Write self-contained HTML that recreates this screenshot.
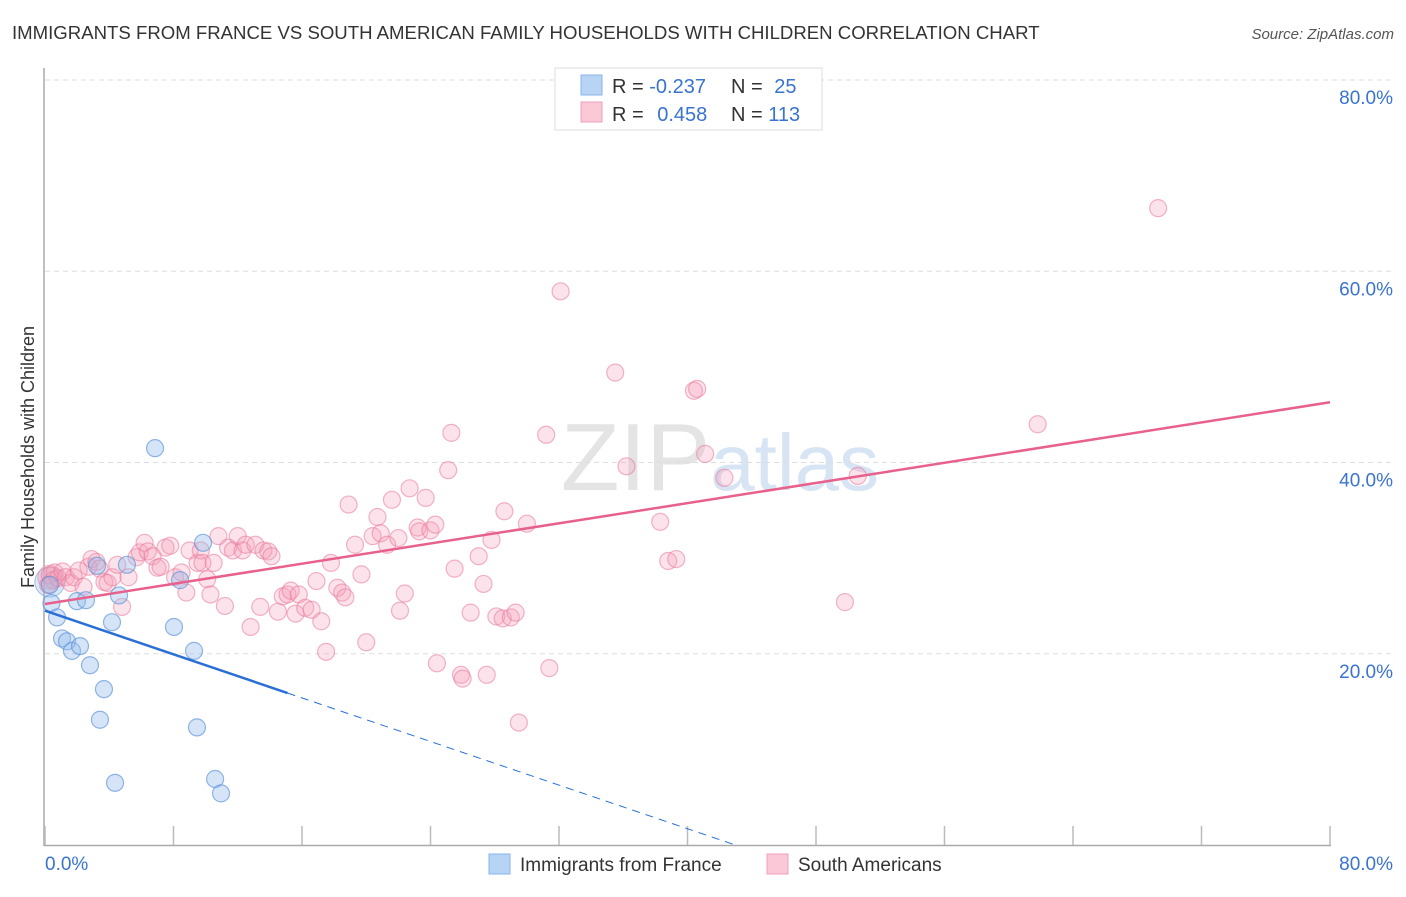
<!DOCTYPE html>
<html><head><meta charset="utf-8"><style>
body{margin:0;background:#fff;font-family:"Liberation Sans",sans-serif;}
svg text{font-family:"Liberation Sans",sans-serif;}
</style></head><body>
<svg id="chart" width="1406" height="892" xmlns="http://www.w3.org/2000/svg">
<text x="12" y="39" font-size="18.6" fill="#333">IMMIGRANTS FROM FRANCE VS SOUTH AMERICAN FAMILY HOUSEHOLDS WITH CHILDREN CORRELATION CHART</text>
<text x="1394" y="39" font-size="15" fill="#555" font-style="italic" text-anchor="end">Source: ZipAtlas.com</text>
<text x="720" y="490" font-size="96" fill="#e4e4e4" text-anchor="middle" font-family="Liberation Serif"><tspan>ZIP</tspan><tspan fill="#d7e4f3" font-family="Liberation Sans" font-size="80">atlas</tspan></text>
<text transform="translate(34,457) rotate(-90)" font-size="18" fill="#333" text-anchor="middle">Family Households with Children</text>
<g id="grid"></g>
<g id="axes"></g>
<g id="marks"></g>
<g>
<rect x="555" y="68" width="267" height="62" fill="#fff" stroke="#ddd"/>
<rect x="581" y="75" width="21" height="20" fill="#b8d4f5" stroke="#8ab4e8"/>
<rect x="581" y="102" width="21" height="20" fill="#fbc8d7" stroke="#f0a0b8"/>
<text x="612" y="93" font-size="20" fill="#333">R = <tspan fill="#3a73d0">-0.237</tspan></text>
<text x="731" y="93" font-size="20" fill="#333">N = <tspan fill="#3a73d0" dx="6">25</tspan></text>
<text x="612" y="121" font-size="20" fill="#333">R = <tspan fill="#3a73d0" dx="8">0.458</tspan></text>
<text x="731" y="121" font-size="20" fill="#333">N = <tspan fill="#3a73d0">113</tspan></text>
</g>
<g>
<rect x="489" y="854" width="21" height="20" fill="#b8d4f5" stroke="#8ab4e8"/>
<text x="520" y="871" font-size="19" fill="#333">Immigrants from France</text>
<rect x="767" y="854" width="21" height="20" fill="#fbc8d7" stroke="#f0a0b8"/>
<text x="798" y="871" font-size="19" fill="#333">South Americans</text>
</g>
</svg>
<script>
const xTicks=[0,8,16,24,32,40,48,56,64,72,80];
const yTicks=[20,40,60,80];
const yTickLabels=["20.0%","40.0%","60.0%","80.0%"];
const franceX=[0.3,0.4,0.75,1.06,1.37,1.68,2.18,1.99,2.55,2.8,3.67,3.42,4.17,4.36,4.61,5.1,3.24,6.85,8.03,8.41,9.28,9.46,9.84,10.59,10.96];
const franceY=[27.2,25.3,23.8,21.6,21.3,20.3,20.8,25.5,25.6,18.8,16.3,13.1,23.3,6.5,26.1,29.3,29.2,41.5,22.8,27.7,20.3,12.3,31.6,6.9,5.4];
const saX=[0.3,0.5,0.6,0.2,0.8,1.1,1.3,1.6,1.8,2.1,2.4,2.7,2.9,3.2,3.4,3.7,3.9,4.2,4.5,4.8,5.2,5.7,5.9,6.2,6.4,6.7,7.0,7.2,7.5,7.8,8.1,8.5,8.8,9.0,9.5,9.7,9.8,10.1,10.3,10.5,10.8,11.2,11.4,11.7,12.0,12.3,12.5,12.8,13.1,13.4,13.6,13.9,14.1,14.5,14.8,15.1,15.3,15.6,15.8,16.2,16.6,16.9,17.2,17.5,17.8,18.2,18.5,18.7,18.9,19.3,19.7,20.0,20.4,20.7,20.9,21.3,21.6,22.0,22.1,22.4,22.7,23.2,23.3,23.7,24.0,24.3,24.4,25.3,25.1,25.5,25.9,26.0,26.5,27.0,27.3,27.5,27.8,28.1,28.5,28.6,29.0,29.3,29.5,30.0,31.2,31.4,32.1,35.5,36.2,38.3,38.8,39.3,40.4,40.6,41.1,42.3,49.8,50.6,61.8,69.3];
const saY=[28.2,27.7,28.5,27.2,27.9,28.6,28.0,27.4,28.0,28.7,27.0,29.1,29.9,29.6,28.9,27.5,27.4,28.0,29.3,24.9,28.0,30.1,30.6,31.6,30.7,30.2,29.0,29.1,31.1,31.3,28.0,28.5,26.4,30.8,29.5,30.8,29.5,27.8,26.2,29.5,32.3,25.0,31.1,30.8,32.3,30.8,31.4,22.8,31.4,24.9,30.8,30.7,30.2,24.4,26.0,26.2,26.6,24.2,26.2,24.8,24.6,27.6,23.4,20.2,29.5,26.9,26.4,25.9,35.6,31.4,28.3,21.2,32.3,34.3,32.6,31.4,36.1,32.1,24.5,26.3,37.3,33.2,32.8,36.3,32.9,33.5,19.0,43.1,39.2,28.9,17.8,17.4,24.3,30.2,27.3,17.8,31.9,23.9,23.7,34.9,23.8,24.3,12.8,33.6,42.9,18.5,57.9,49.4,39.6,33.8,29.7,29.9,47.5,47.7,40.9,38.4,25.4,38.6,44.0,66.6];
const trendFrance=[24.5,-0.57,15.1]; // intercept, slope, solid end
const trendSA=[25.2,46.3];
const NS="http://www.w3.org/2000/svg";
const X=v=>45+v*(1285/80), Y=v=>845-v*(765/80);
function mk(t,a,p){const e=document.createElementNS(NS,t);for(const k in a)e.setAttribute(k,a[k]);p.appendChild(e);return e;}
const grid=document.getElementById('grid'),axes=document.getElementById('axes'),marks=document.getElementById('marks');
yTicks.forEach((t,i)=>{
 const l=mk('line',{x1:45,x2:1395,y1:Y(t),y2:Y(t),stroke:'#ddd','stroke-dasharray':'5,4'},grid);
 
 
 const tx=mk('text',{x:1393,y:Y(t)+24,'font-size':19,fill:'#3a73d0','text-anchor':'end'},axes);
 tx.textContent=yTickLabels[i];
 
 
});
mk('line',{x1:44,x2:44,y1:68,y2:846,stroke:'#aaa','stroke-width':1.5},axes);
mk('line',{x1:44,x2:1331,y1:845.5,y2:845.5,stroke:'#aaa','stroke-width':1.5},axes);
xTicks.forEach(t=>{
 const k=mk('line',{x1:X(t),x2:X(t),y1:826,y2:845,stroke:'#bbb','stroke-width':1.5},axes);
 
 
});
const x0=mk('text',{x:45,y:870,'font-size':19,fill:'#3a73d0'},axes);x0.textContent='0.0%';


const x1=mk('text',{x:1393,y:870,'font-size':19,fill:'#3a73d0','text-anchor':'end'},axes);x1.textContent='80.0%';


mk('circle',{cx:X(0.3),cy:Y(27.5),r:15,fill:'rgba(150,190,235,0.35)',stroke:'rgba(106,159,220,0.6)'},marks);
mk('circle',{cx:X(0.3),cy:Y(28.0),r:12,fill:'rgba(244,160,185,0.4)',stroke:'rgba(232,138,166,0.6)'},marks);
saX.forEach((x,i)=>{
 const c=mk('circle',{cx:X(x),cy:Y(saY[i]),r:8.5,fill:'rgba(244,160,185,0.3)',stroke:'rgba(232,120,155,0.55)','stroke-width':1.2},marks);
 
 
});
franceX.forEach((x,i)=>{
 const c=mk('circle',{cx:X(x),cy:Y(franceY[i]),r:8.5,fill:'rgba(150,190,235,0.4)',stroke:'rgba(90,145,215,0.65)','stroke-width':1.2},marks);
 
 
});
const ts=mk('line',{x1:X(0),y1:Y(trendSA[0]),x2:X(80),y2:Y(trendSA[1]),stroke:'#e8608c','stroke-width':2.5},marks);


const [b,m,e]=trendFrance;
const tf=mk('line',{x1:X(0),y1:Y(b),x2:X(e),y2:Y(b+m*e),stroke:'#2a6fd6','stroke-width':2.5},marks);


const xe=-b/m;
const td=mk('line',{x1:X(e),y1:Y(b+m*e),x2:X(xe),y2:Y(0),stroke:'#2a6fd6','stroke-width':1,'stroke-dasharray':'8,6'},marks);


</script>
</body></html>
